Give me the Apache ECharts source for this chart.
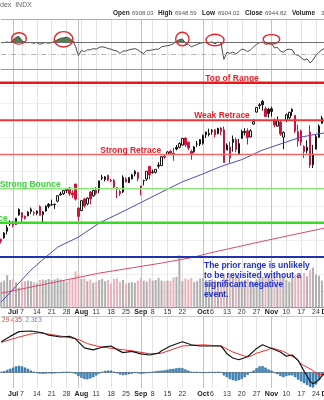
<!DOCTYPE html>
<html>
<head>
<meta charset="utf-8">
<script src="https://cdn.jsdelivr.net/npm/echarts@6/dist/echarts.min.js"></script>
<style>
html,body{margin:0;padding:0;background:#fff;}
#chart{width:324px;height:400px;}
</style>
</head>
<body>
<div id="chart"></div>
<script>
// ---- trading days ----
const dates = ['Jun 25','Jun 26','Jun 27','Jun 30','Jul 1','Jul 2','Jul 3','Jul 7','Jul 8','Jul 9','Jul 10','Jul 11','Jul 14','Jul 15','Jul 16','Jul 17','Jul 18','Jul 21','Jul 22','Jul 23','Jul 24','Jul 25','Jul 28','Jul 29','Jul 30','Jul 31','Aug 1','Aug 4','Aug 5','Aug 6','Aug 7','Aug 8','Aug 11','Aug 12','Aug 13','Aug 14','Aug 15','Aug 18','Aug 19','Aug 20','Aug 21','Aug 22','Aug 25','Aug 26','Aug 27','Aug 28','Aug 29','Sep 2','Sep 3','Sep 4','Sep 5','Sep 8','Sep 9','Sep 10','Sep 11','Sep 12','Sep 15','Sep 16','Sep 17','Sep 18','Sep 19','Sep 22','Sep 23','Sep 24','Sep 25','Sep 26','Sep 29','Sep 30','Oct 1','Oct 2','Oct 3','Oct 6','Oct 7','Oct 8','Oct 9','Oct 10','Oct 13','Oct 14','Oct 15','Oct 16','Oct 17','Oct 20','Oct 21','Oct 22','Oct 23','Oct 24','Oct 27','Oct 28','Oct 29','Oct 30','Oct 31','Nov 3','Nov 4','Nov 5','Nov 6','Nov 7','Nov 10','Nov 11','Nov 12','Nov 13','Nov 14','Nov 17','Nov 18','Nov 19','Nov 20','Nov 21','Nov 24','Nov 25','Nov 26','Nov 28','Dec 1'];

// ---- daily prices ----
const open = [6104,6112,6151,6193,6187,6191,6246,6259,6239,6241,
  6266,6255,6256,6295,6248,6269,6308,6304,6306,6327,
  6369,6370,6397,6404,6375,6427,6287,6272,6340,6311,
  6381,6358,6391,6392,6461,6453,6478,6445,6448,6406,
  6384,6381,6457,6435,6457,6486,6494,6402,6445,6456,
  6530,6498,6496,6538,6535,6590,6600,6619,6607,6641,
  6642,6655,6696,6672,6619,6616,6661,6661,6665,6732,
  6723,6734,6745,6722,6755,6744,6626,6580,6689,6687,
  6604,6694,6728,6738,6703,6778,6848,6885,6910,6867,
  6865,6867,6798,6766,6790,6701,6799,6815,6864,6829,
  6678,6738,6647,6621,6731,6540,6631,6700,6782,6823,6813];
const high = [6108,6146,6187,6215,6211,6228,6285,6263,6243,6269,
  6290,6269,6272,6303,6269,6302,6316,6336,6310,6359,
  6381,6390,6401,6410,6391,6428,6288,6330,6346,6349,
  6385,6395,6409,6446,6481,6474,6482,6457,6456,6408,
  6394,6478,6467,6466,6487,6509,6495,6416,6453,6503,
  6533,6512,6513,6555,6592,6601,6619,6627,6639,6656,
  6671,6696,6698,6674,6628,6650,6679,6689,6716,6733,
  6751,6749,6745,6755,6760,6764,6665,6675,6711,6698,
  6691,6745,6754,6753,6749,6808,6876,6900,6920,6880,
  6873,6879,6811,6822,6798,6735,6841,6849,6870,6829,
  6775,6746,6654,6683,6771,6656,6715,6777,6826,6851,6844];
const low = [6080,6107,6132,6182,6175,6189,6242,6201,6219,6239,
  6251,6242,6245,6242,6202,6265,6285,6303,6282,6320,
  6360,6363,6375,6358,6347,6330,6212,6271,6289,6303,
  6308,6354,6364,6374,6450,6442,6444,6437,6401,6344,
  6358,6374,6437,6433,6454,6472,6443,6361,6419,6445,
  6454,6488,6488,6518,6532,6575,6598,6599,6563,6624,
  6635,6651,6645,6625,6569,6608,6643,6649,6657,6696,
  6706,6716,6700,6718,6713,6551,6626,6550,6617,6613,
  6603,6691,6711,6658,6701,6773,6845,6867,6856,6819,
  6815,6821,6759,6762,6709,6631,6789,6805,6826,6725,
  6646,6652,6580,6606,6522,6521,6630,6697,6779,6818,6802];
const close = [6092,6141,6173,6205,6198,6227,6279,6230,6226,6263,
  6280,6260,6269,6244,6264,6297,6297,6306,6310,6359,
  6363,6389,6390,6371,6363,6339,6238,6330,6299,6345,
  6340,6389,6373,6446,6467,6469,6450,6449,6411,6396,
  6370,6467,6439,6466,6481,6502,6460,6416,6448,6502,
  6482,6495,6513,6532,6587,6584,6615,6607,6600,6632,
  6664,6694,6657,6638,6605,6644,6661,6688,6711,6715,
  6716,6740,6715,6754,6735,6553,6655,6644,6671,6629,
  6664,6735,6735,6699,6738,6792,6875,6891,6891,6822,
  6840,6852,6772,6796,6720,6729,6832,6847,6851,6737,
  6734,6672,6617,6642,6539,6603,6705,6766,6813,6849,6813];
// volume, billions of shares
const volume = [4.6,4.9,5.9,5.0,5.2,4.6,3.6,4.7,4.8,4.9,
  4.8,4.6,4.4,5.0,5.1,5.0,5.2,5.0,5.1,5.3,
  5.1,4.9,4.7,5.1,5.4,6.6,6.1,5.2,5.3,4.8,
  5.1,4.5,4.7,5.0,5.2,4.8,5.0,4.4,5.2,5.3,
  4.7,5.0,4.3,4.5,4.6,4.5,4.9,5.4,4.9,4.7,
  5.3,4.9,5.0,5.4,4.9,4.8,4.9,4.8,5.5,5.6,
  9.6,4.8,5.3,5.1,5.4,4.6,4.8,5.3,5.4,5.0,
  4.9,5.1,5.0,4.8,4.9,6.2,5.3,5.8,5.6,5.7,
  5.6,4.9,5.0,5.2,4.9,4.7,5.1,5.3,5.6,5.7,
  5.8,5.4,5.8,5.1,5.6,5.7,5.0,4.7,5.4,6.0,
  6.1,5.8,6.3,5.7,6.8,7.3,6.0,5.8,4.9,3.0,5.5];

// ---- moving averages, read at sample dates ----
const ma50Pts = [['Jun 25',5737],['Jul 2',5830],['Jul 10',5924],['Jul 17',6000],['Jul 23',6058],['Aug 1',6117],['Aug 12',6199],['Aug 25',6275],['Sep 11',6380],['Sep 22',6440],['Sep 30',6480],['Oct 9',6530],['Oct 20',6570],['Oct 29',6626],['Nov 7',6667],['Nov 17',6702],['Nov 24',6718],['Dec 1',6730]];
const ma200Pts = [['Jun 25',5789],['Aug 12',5906],['Sep 11',5965],['Sep 26',6000],['Oct 3',6023],['Oct 31',6100],['Nov 28',6170],['Dec 1',6172]];

// ---- RSI(14) ----
const rsi = [69,69,70,69,73,78,79,72,69,69,
  69,68,69,66,68,69,68,69,71,74,
  76,77,78,76,72,63,47,56,54,57,
  57,59,58,61,62,61,59,58,56,55,
  51,55,55,57,58,59,57,53,51,56,
  56,57,58,58,62,63,64,65,67,71,
  74,75,68,66,62,64,66,68,69,69,
  69,70,67,70,68,41,53,51,53,50,
  54,58,57,54,57,62,66,69,70,66,
  67,68,60,61,55,53,57,58,57,49,
  48,44,40,42,35,40,48,53,57,60,56];
const rsiUpper = 70, rsiMid = 50;
const ringDates = ['Jul 3','Jul 25','Sep 22','Oct 7','Nov 3'];
const ringLevels = [76,74.5,75,73.3,74.5];

// ---- MACD(12,26,9) ----
const macdPts = [['Jun 25',51],['Jun 30',60],['Jul 3',68],['Jul 10',69],['Jul 16',66],['Jul 18',62],['Jul 24',59],['Jul 29',60],['Jul 31',56],['Aug 1',51],['Aug 5',41],['Aug 8',37.5],['Aug 13',42],['Aug 18',44],['Aug 20',38],['Aug 22',33],['Aug 27',35],['Sep 2',31],['Sep 5',29],['Sep 10',32],['Sep 11',36],['Sep 16',44],['Sep 22',51],['Sep 25',46],['Sep 30',44],['Oct 6',44],['Oct 9',44],['Oct 10',38],['Oct 13',31],['Oct 15',24],['Oct 17',21],['Oct 22',26],['Oct 27',40],['Oct 29',46],['Oct 31',42],['Nov 6',34],['Nov 10',27],['Nov 12',29],['Nov 14',20],['Nov 18',2],['Nov 19',-6],['Nov 20',-15],['Nov 21',-19],['Nov 24',-16],['Nov 25',-12],['Nov 26',-6],['Nov 28',-1],['Dec 1',2]];
const signalPts = [['Jun 25',50],['Jul 3',59],['Jul 10',64],['Jul 15',66],['Jul 21',63],['Jul 28',59],['Aug 1',55],['Aug 6',48],['Aug 12',43],['Aug 20',39],['Aug 27',36],['Sep 5',31],['Sep 11',32],['Sep 22',44],['Oct 1',46],['Oct 9',44],['Oct 15',34],['Oct 21',27],['Oct 23',27],['Oct 27',32],['Oct 31',38],['Nov 3',41],['Nov 7',35],['Nov 13',24],['Nov 17',14],['Nov 20',6],['Nov 21',3],['Nov 25',-4],['Dec 1',-3]];
const macdHist = [0.5,2,4,6,8,10,11,10,8,6,
  3,1,-1,-2,-2.5,-2,-1.5,-2,-1.5,-1,
  -1,0.5,1,0.5,-1,-2.5,-6,-9,-11,-11.5,
  -10,-8,-5,-2,1,2.5,3,3,1,-1.5,
  -3.5,-4.5,-4,-3,-2,-1,-1.5,-2.5,-2,-1,
  0,1,2,2.5,3,3.5,4.5,5.5,6,7,
  7.5,7,5,3,1,0.5,0.5,0,-0.5,-0.5,
  0,0.5,0,0.5,0,-5,-8,-11,-13,-14,
  -13,-11,-8,-4,0,3,7,10,10.5,8,
  5,3,-1,-3,-6,-8,-6,-5,-5,-8,
  -12,-15,-18,-21,-24,-25,-20,-13,-5,0,3];

// ---- price levels and notes ----
const levelPrices = [7020, 6800, 6600, 6400, 6200, 6000];
const levelNames = ['Top of Range','Weak Retrace','Strong Retrace','Strong Bounce','Weak Bounce',''];
const levelAnchors = ['Oct 1','Sep 26','Aug 12','Jun 25','Jun 27','Oct 1'];
const noteText = 'The prior range is unlikely\nto be revisited without a\nsignificant negative\nevent.';
const noteAnchor = ['Oct 1', 6000];

// ---- axis tick labels ----
const tickLabels = [['Jul 1','Jul'],['Jul 7','7'],['Jul 14','14'],['Jul 21','21'],['Jul 28','28'],['Aug 4','Aug'],['Aug 11','11'],['Aug 18','18'],['Aug 25','25'],['Sep 2','Sep'],['Sep 8','8'],['Sep 15','15'],['Sep 22','22'],['Oct 1','Oct'],['Oct 6','6'],['Oct 13','13'],['Oct 20','20'],['Oct 27','27'],['Nov 3','Nov'],['Nov 10','10'],['Nov 17','17'],['Nov 24','24'],['Dec 1','Dec']];
const monthStarts = ['Jul 1','Aug 1','Sep 2','Oct 1','Nov 3','Dec 1'];
const monthNames = ['Jul','Aug','Sep','Oct','Nov','Dec'];

// ---- header quote ----
const quoteFields = [['Open','6908.03'],['High','6948.59'],['Low','6904.02'],['Close','6944.82'],['Volume','3.4B']];
const macdLegend = ['29.435,', ' 2.363'];

// ================= drawing =================
const N = dates.length;
const idx = d => dates.indexOf(d);
const sparse = pts => { const a = new Array(N).fill(null); pts.forEach(([d, v]) => { a[idx(d)] = v; }); return a; };
const tickMap = new Map(tickLabels.map(([d, t]) => [idx(d), t]));
const monthSet = new Set(monthStarts.map(idx));

const FONT = '"Liberation Sans", Arial, sans-serif';
const RED = '#d3123a', BLK = '#151515';

const candles = dates.map((d, i) => {
  const o = open[i], c = close[i];
  const prev = i ? close[i - 1] : o;
  const col = c >= prev ? BLK : RED;
  const fill = c > o ? '#ffffff' : col;
  return { value: [o, c, low[i], high[i]], itemStyle: { color: fill, color0: fill, borderColor: col, borderColor0: col } };
});
const volBars = volume.map((v, i) => ({
  value: v,
  itemStyle: { color: (i && close[i] < close[i - 1]) ? '#ebb2bb' : '#afafaf' }
}));

const PX = 2.9697;                 // pixels per trading day
const gx = { left: 1.212, width: PX * (N - 1), outerBoundsMode: 'none', containLabel: false };
const grids = [
  Object.assign({ top: 19, height: 50 }, gx),        // RSI
  Object.assign({ top: 69, height: 239.36 }, gx),    // price
  Object.assign({ top: 245, height: 62 }, gx),       // volume
  Object.assign({ top: 316, height: 72 }, gx)        // MACD
];

function xa(grid, extra) {
  return Object.assign({
    type: 'category', gridIndex: grid, data: dates, boundaryGap: false,
    axisLine: { show: false }, axisTick: { show: false }, axisLabel: { show: false }, splitLine: { show: false }
  }, extra);
}
const weekLines = { show: true, interval: i => tickMap.has(i), lineStyle: { color: '#e3e3e3', width: 1 } };
const monthLines = { show: true, interval: i => monthSet.has(i), lineStyle: { color: '#c2c2c2', width: 1 } };
const dateLabels = margin => ({
  show: true, margin, fontSize: 7, fontFamily: FONT, color: '#333',
  interval: i => tickMap.has(i),
  formatter: (v, i) => { const t = tickMap.get(i) || ''; return monthNames.includes(t) ? '{m|' + t + '}' : t; },
  rich: { m: { fontWeight: 'bold', fontSize: 7, fontFamily: FONT, color: '#222' } }
});

const xAxes = [
  xa(0, { splitLine: weekLines, axisLine: { show: true, lineStyle: { color: '#9a9a9a', width: 1 } } }),
  xa(0, { position: 'top', splitLine: monthLines, axisLine: { show: true, lineStyle: { color: '#b0b0b0', width: 1 } } }),
  xa(1, { splitLine: weekLines }),
  xa(1, { splitLine: monthLines }),
  xa(2, { axisLine: { show: true, lineStyle: { color: '#9a9a9a', width: 1 } }, axisLabel: dateLabels(2) }),
  xa(3, { splitLine: weekLines, axisLine: { show: true, lineStyle: { color: '#9a9a9a', width: 1 } }, axisLabel: dateLabels(3) }),
  xa(3, { position: 'top', splitLine: monthLines, axisLine: { show: true, lineStyle: { color: '#c8c8c8', width: 1 } } })
];
const yAxes = [
  { type: 'value', gridIndex: 0, min: 25, max: 108.3333, show: false },
  { type: 'value', gridIndex: 1, min: 5700, max: 7100, interval: 100, show: true,
    axisLine: { show: false }, axisTick: { show: false }, axisLabel: { show: false },
    splitLine: { show: true, lineStyle: { color: '#efefef', width: 1 } } },
  { type: 'value', gridIndex: 2, min: 0, max: 11.5, show: false },
  { type: 'value', gridIndex: 3, min: -26, max: 94, show: false }
];

const levelStyle = [
  { color: '#ee1515', width: 2.5, text: '#ee1c24', dx: 2, align: 'left' },
  { color: '#e8383c', width: 2, text: '#ee1c24', dx: 0, align: 'left' },
  { color: '#f06868', width: 1.3, text: '#ee1c24', dx: 1, align: 'left' },
  { color: '#8fe67c', width: 1.5, text: '#35d835', dx: -1.5, align: 'left' },
  { color: '#36dc24', width: 2.5, text: '#35d835', dx: 0.6, align: 'right' },
  { color: '#1d34ae', width: 2, text: '#1d34ae', dx: 0, align: 'left' }
];
const ringSize = [[7.3, 5.7], [9.3, 7.7], [6.7, 6.7], [9, 5.7], [8.3, 4.7]];

const series = [
  // volume
  { type: 'bar', xAxisIndex: 4, yAxisIndex: 2, data: volBars, barWidth: 2, z: 1, silent: true },
  // candles
  { type: 'candlestick', xAxisIndex: 2, yAxisIndex: 1, data: candles, barWidth: 2, z: 3,
    itemStyle: { borderWidth: 1 } },
  // moving averages
  { type: 'line', xAxisIndex: 2, yAxisIndex: 1, data: sparse(ma50Pts), connectNulls: true, symbol: 'none', z: 4,
    lineStyle: { color: '#4d4db6', width: 1 } },
  { type: 'line', xAxisIndex: 2, yAxisIndex: 1, data: sparse(ma200Pts), connectNulls: true, symbol: 'none', z: 4,
    lineStyle: { color: '#dc4a6a', width: 1 } },
  // price levels with labels
  { type: 'custom', xAxisIndex: 2, yAxisIndex: 1, z: 6, silent: true,
    data: levelPrices.map((p, i) => [idx(levelAnchors[i]), p]),
    renderItem: (params, api) => {
      const i = params.dataIndex, st = levelStyle[i], cs = params.coordSys;
      const pt = api.coord([api.value(0), api.value(1)]);
      const kids = [{ type: 'line', shape: { x1: cs.x - 5, y1: pt[1], x2: cs.x + cs.width, y2: pt[1] },
        style: { stroke: st.color, lineWidth: st.width } }];
      if (levelNames[i]) {
        kids.push({ type: 'text', x: pt[0] + st.dx, y: pt[1] + 0.3,
          style: { text: levelNames[i], fill: st.text, font: 'bold 8.5px ' + FONT, align: st.align, verticalAlign: 'bottom' } });
      }
      return { type: 'group', children: kids };
    } },
  // note
  { type: 'custom', xAxisIndex: 2, yAxisIndex: 1, z: 7, silent: true,
    data: [[idx(noteAnchor[0]), noteAnchor[1]]],
    renderItem: (params, api) => {
      const pt = api.coord([api.value(0), api.value(1)]);
      return { type: 'text', x: pt[0] + 0.8, y: pt[1] + 4,
        style: { text: noteText, fill: '#1f30d6', font: 'bold 8.5px ' + FONT, lineHeight: 9.5, align: 'left', verticalAlign: 'top' } };
    } },
  // RSI overbought fill
  { type: 'line', xAxisIndex: 0, yAxisIndex: 0, data: rsi.map(v => Math.max(v, rsiUpper)), symbol: 'none', z: 2,
    lineStyle: { width: 0, opacity: 0 }, areaStyle: { origin: rsiUpper, color: '#4f7f4f', opacity: 1 } },
  // RSI line
  { type: 'line', xAxisIndex: 0, yAxisIndex: 0, data: rsi, symbol: 'none', z: 3,
    lineStyle: { color: '#4a4a4a', width: 1 },
    markLine: { silent: true, symbol: ['none', 'none'], label: { show: false }, animation: false,
      data: [
        { yAxis: rsiUpper, lineStyle: { color: '#6e6e6e', type: 'solid', width: 1 } },
        { yAxis: rsiMid, lineStyle: { color: '#b4b4b4', type: [5, 2, 1, 2], width: 1 } }
      ] } },
  // RSI highlight rings
  { type: 'custom', xAxisIndex: 0, yAxisIndex: 0, z: 5, silent: true,
    data: ringDates.map((d, i) => [idx(d), ringLevels[i]]),
    renderItem: (params, api) => {
      const pt = api.coord([api.value(0), api.value(1)]);
      const s = ringSize[params.dataIndex];
      return { type: 'ellipse', shape: { cx: pt[0], cy: pt[1], rx: s[0], ry: s[1] },
        style: { fill: null, stroke: '#e4262a', lineWidth: 1.4 } };
    } },
  // MACD histogram
  { type: 'bar', xAxisIndex: 5, yAxisIndex: 3, data: macdHist, barWidth: 2.4, z: 2,
    itemStyle: { color: '#3f8fc8', borderColor: '#1e5b88', borderWidth: 0.5 } },
  // MACD & signal
  { type: 'line', xAxisIndex: 5, yAxisIndex: 3, data: sparse(signalPts), connectNulls: true, symbol: 'none', z: 3,
    lineStyle: { color: '#ee3030', width: 1 } },
  { type: 'line', xAxisIndex: 5, yAxisIndex: 3, data: sparse(macdPts), connectNulls: true, symbol: 'none', z: 4,
    lineStyle: { color: '#151515', width: 1.2 } }
];

// header
const quoteX = [113, 158, 202, 245, 292];
const quoteVX = [132, 175, 218, 265, 321];
const graphic = [
  { type: 'text', x: 0, y: 5.5, style: { text: 'dex  INDX', font: '7px ' + FONT, fill: '#666', verticalAlign: 'middle' } }
];
quoteFields.forEach(([k, v], i) => {
  graphic.push({ type: 'text', x: quoteX[i], y: 13.5, style: { text: k, font: 'bold 6.5px ' + FONT, fill: '#222', verticalAlign: 'middle' } });
  graphic.push({ type: 'text', x: quoteVX[i], y: 13.5, style: { text: v, font: '6px ' + FONT, fill: '#555', verticalAlign: 'middle' } });
});
graphic.push({ type: 'text', x: 2, y: 320.5, style: {
  text: '{r|' + macdLegend[0] + '}{b|' + macdLegend[1] + '}', verticalAlign: 'middle',
  rich: { r: { fill: '#e23a3a', font: '6.5px ' + FONT }, b: { fill: '#5b86d6', font: '6.5px ' + FONT } } } });

const chart = echarts.init(document.getElementById('chart'), null, { renderer: 'canvas' });
chart.setOption({
  animation: false,
  backgroundColor: '#ffffff',
  grid: grids,
  xAxis: xAxes,
  yAxis: yAxes,
  series: series,
  graphic: graphic
});
</script>
</body>
</html>
